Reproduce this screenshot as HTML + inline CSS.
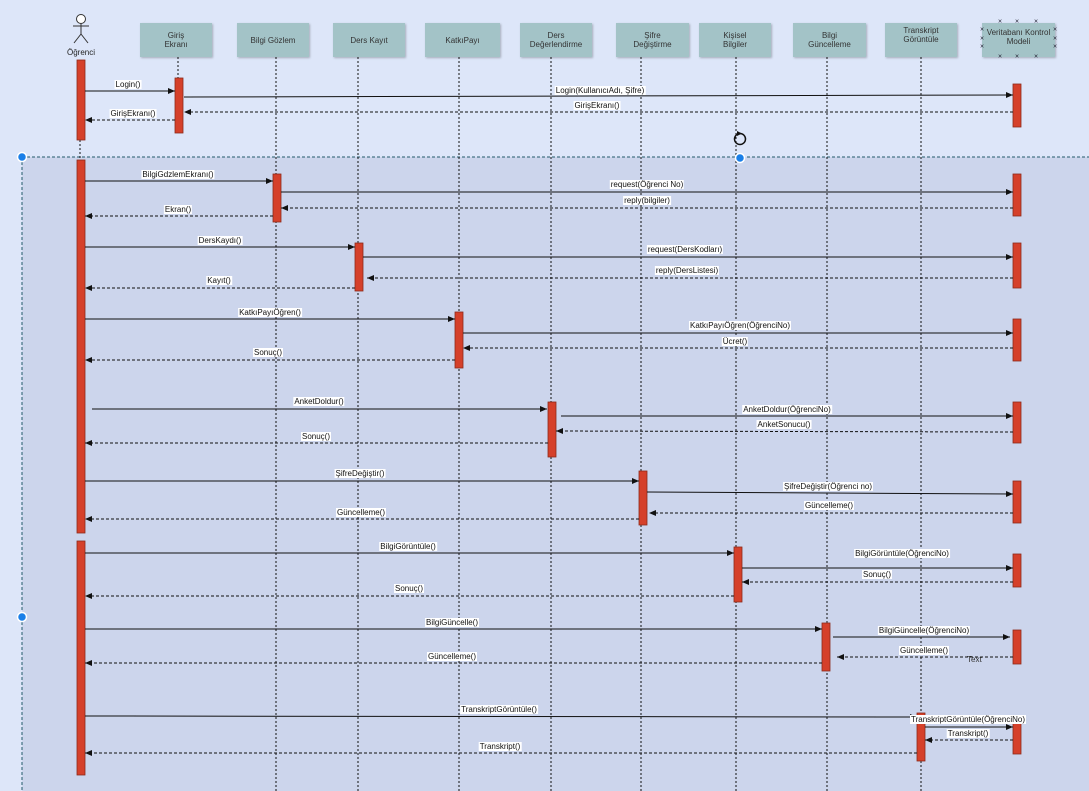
<!DOCTYPE html>
<html><head><meta charset="utf-8"><style>
body{margin:0;width:1089px;height:791px;overflow:hidden;background:#dde6f9;font-family:"Liberation Sans",sans-serif;position:relative}
.lbl{position:absolute;font-size:8px;background:#fff;color:#111;line-height:9px;padding:0 1px;transform:translateX(-50%);white-space:nowrap}
.hd{position:absolute;top:23px;height:34px;width:72px;background:#a3c3c7;box-shadow:1px 1px 2px rgba(0,0,0,.25);font-size:8px;color:#333;text-align:center;display:flex;align-items:center;justify-content:center;line-height:9px}
.x{position:absolute;font-size:7px;color:#223;line-height:7px;transform:translate(-50%,-50%)}
</style></head><body>
<svg width="1089" height="791" style="position:absolute;left:0;top:0">
<defs><marker id="a" markerWidth="8" markerHeight="8" refX="7" refY="4" orient="auto" markerUnits="userSpaceOnUse"><path d="M0,1 L7,4 L0,7 Z" fill="#111"/></marker></defs>
<rect x="22" y="157" width="1067" height="634" fill="#ccd5ec"/>
<line x1="22" y1="157" x2="1089" y2="157" stroke="#245a6a" stroke-dasharray="3,2"/>
<line x1="22" y1="157" x2="22" y2="791" stroke="#245a6a" stroke-dasharray="3,2"/>
<g stroke="#111" stroke-dasharray="2,2" stroke-width="1">
<line x1="80" y1="140" x2="80" y2="160"/>
<line x1="178" y1="57" x2="178" y2="78"/>
<line x1="276" y1="57" x2="276" y2="791"/>
<line x1="358" y1="57" x2="358" y2="791"/>
<line x1="459" y1="57" x2="459" y2="791"/>
<line x1="551" y1="57" x2="551" y2="791"/>
<line x1="641" y1="57" x2="641" y2="791"/>
<line x1="736" y1="57" x2="736" y2="791"/>
<line x1="827" y1="57" x2="827" y2="791"/>
<line x1="921" y1="57" x2="921" y2="791"/>
</g>
<g stroke="#333" fill="none" stroke-width="1">
<circle cx="81" cy="19" r="4.5" fill="#fff"/>
<line x1="81" y1="23" x2="81" y2="34"/><line x1="73" y1="26" x2="89" y2="26"/>
<line x1="81" y1="34" x2="74" y2="43"/><line x1="81" y1="34" x2="88" y2="43"/>
</g>
<text x="81" y="55" font-size="8" text-anchor="middle" fill="#222" font-family="Liberation Sans">Öğrenci</text>
<g fill="#d5402a" stroke="#8b2a1a" stroke-width="0.8">
<rect x="77" y="60" width="8" height="80"/><rect x="77" y="160" width="8" height="373"/><rect x="77" y="541" width="8" height="234"/>
<rect x="175" y="78" width="8" height="55"/>
<rect x="1013" y="84" width="8" height="43"/><rect x="1013" y="174" width="8" height="42"/><rect x="1013" y="243" width="8" height="45"/>
<rect x="1013" y="319" width="8" height="42"/><rect x="1013" y="402" width="8" height="41"/><rect x="1013" y="481" width="8" height="42"/>
<rect x="1013" y="554" width="8" height="33"/><rect x="1013" y="630" width="8" height="34"/><rect x="1013" y="718" width="8" height="36"/>
<rect x="273" y="174" width="8" height="48"/><rect x="355" y="243" width="8" height="48"/><rect x="455" y="312" width="8" height="56"/>
<rect x="548" y="402" width="8" height="55"/><rect x="639" y="471" width="8" height="54"/><rect x="734" y="547" width="8" height="55"/>
<rect x="822" y="623" width="8" height="48"/><rect x="917" y="713" width="8" height="48"/>
</g>
<g stroke="#111" stroke-width="1" marker-end="url(#a)">
<line x1="85" y1="91" x2="175" y2="91"/><line x1="184" y1="97" x2="1013" y2="95"/>
<line x1="85" y1="181" x2="273" y2="181"/><line x1="281" y1="192" x2="1013" y2="192"/>
<line x1="85" y1="247" x2="355" y2="247"/><line x1="363" y1="257" x2="1013" y2="257"/>
<line x1="85" y1="319" x2="455" y2="319"/><line x1="463" y1="333" x2="1013" y2="333"/>
<line x1="92" y1="409" x2="547" y2="409"/><line x1="561" y1="416" x2="1013" y2="416"/>
<line x1="85" y1="481" x2="639" y2="481"/><line x1="647" y1="492" x2="1013" y2="494"/>
<line x1="85" y1="553" x2="734" y2="553"/><line x1="742" y1="568" x2="1013" y2="568"/>
<line x1="85" y1="629" x2="822" y2="629"/><line x1="833" y1="637" x2="1010" y2="637"/>
<line x1="85" y1="716" x2="917" y2="717"/><line x1="925" y1="727" x2="1013" y2="727"/>
</g>
<g stroke="#111" stroke-width="1" stroke-dasharray="3,2" marker-end="url(#a)">
<line x1="1013" y1="112" x2="184" y2="112"/><line x1="175" y1="120" x2="85" y2="120"/>
<line x1="1013" y1="208" x2="281" y2="208"/><line x1="273" y1="216" x2="85" y2="216"/>
<line x1="1013" y1="278" x2="367" y2="278"/><line x1="355" y1="288" x2="85" y2="288"/>
<line x1="1013" y1="348" x2="463" y2="348"/><line x1="455" y1="360" x2="85" y2="360"/>
<line x1="1013" y1="432" x2="556" y2="431"/><line x1="548" y1="443" x2="85" y2="443"/>
<line x1="1013" y1="513" x2="649" y2="513"/><line x1="639" y1="519" x2="85" y2="519"/>
<line x1="1013" y1="582" x2="742" y2="582"/><line x1="734" y1="596" x2="85" y2="596"/>
<line x1="1013" y1="657" x2="837" y2="657"/><line x1="822" y1="663" x2="85" y2="663"/>
<line x1="1013" y1="740" x2="925" y2="740"/><line x1="917" y1="753" x2="85" y2="753"/>
</g>
<g fill="#1a7fe8" stroke="#fff" stroke-width="1.5">
<circle cx="22" cy="157" r="4.5"/><circle cx="740" cy="158" r="4.5"/><circle cx="22" cy="617" r="4.5"/>
</g>
<circle cx="740" cy="139" r="5.5" fill="none" stroke="#111" stroke-width="1.5"/>
<path d="M737,131 L742,133.5 L737,136 Z" fill="#111"/>
</svg>
<div class="hd" style="left:140px">Giriş<br>Ekranı</div>
<div class="hd" style="left:237px">Bilgi Gözlem</div>
<div class="hd" style="left:333px">Ders Kayıt</div>
<div class="hd" style="left:425px;width:75px">KatkıPayı</div>
<div class="hd" style="left:520px;width:72px">Ders<br>Değerlendirme</div>
<div class="hd" style="left:616px;width:73px">Şifre<br>Değiştirme</div>
<div class="hd" style="left:699px">Kişisel<br>Bilgiler</div>
<div class="hd" style="left:793px;width:73px">Bilgi<br>Güncelleme</div>
<div class="hd" style="left:885px;align-items:flex-start;padding-top:3px;height:31px">Transkript<br>Görüntüle</div>
<div class="hd" style="left:982px;width:73px;align-items:flex-start;padding-top:5px;height:29px">Veritabanı Kontrol<br>Modeli</div>
<div class="x" style="left:1000px;top:22px">×</div><div class="x" style="left:1017px;top:22px">×</div><div class="x" style="left:1036px;top:22px">×</div>
<div class="x" style="left:1000px;top:57px">×</div><div class="x" style="left:1017px;top:57px">×</div><div class="x" style="left:1036px;top:57px">×</div>
<div class="x" style="left:982px;top:30px">×</div><div class="x" style="left:982px;top:39px">×</div><div class="x" style="left:982px;top:47px">×</div>
<div class="x" style="left:1055px;top:30px">×</div><div class="x" style="left:1055px;top:39px">×</div><div class="x" style="left:1055px;top:47px">×</div>
<div class="lbl" style="left:128px;top:80px">Login()</div>
<div class="lbl" style="left:600px;top:86px">Login(KullanıcıAdı, Şifre)</div>
<div class="lbl" style="left:597px;top:101px">GirişEkranı()</div>
<div class="lbl" style="left:133px;top:109px">GirişEkranı()</div>
<div class="lbl" style="left:178px;top:170px">BilgiGdzlemEkranı()</div>
<div class="lbl" style="left:647px;top:180px">request(Öğrenci No)</div>
<div class="lbl" style="left:647px;top:196px">reply(bilgiler)</div>
<div class="lbl" style="left:178px;top:205px">Ekran()</div>
<div class="lbl" style="left:220px;top:236px">DersKaydı()</div>
<div class="lbl" style="left:685px;top:245px">request(DersKodları)</div>
<div class="lbl" style="left:687px;top:266px">reply(DersListesi)</div>
<div class="lbl" style="left:219px;top:276px">Kayıt()</div>
<div class="lbl" style="left:270px;top:308px">KatkıPayıÖğren()</div>
<div class="lbl" style="left:740px;top:321px">KatkıPayıÖğren(ÖğrenciNo)</div>
<div class="lbl" style="left:735px;top:337px">Ücret()</div>
<div class="lbl" style="left:268px;top:348px">Sonuç()</div>
<div class="lbl" style="left:319px;top:397px">AnketDoldur()</div>
<div class="lbl" style="left:787px;top:405px">AnketDoldur(ÖğrenciNo)</div>
<div class="lbl" style="left:784px;top:420px">AnketSonucu()</div>
<div class="lbl" style="left:316px;top:432px">Sonuç()</div>
<div class="lbl" style="left:360px;top:469px">ŞifreDeğiştir()</div>
<div class="lbl" style="left:828px;top:482px">ŞifreDeğiştir(Öğrenci no)</div>
<div class="lbl" style="left:829px;top:501px">Güncelleme()</div>
<div class="lbl" style="left:361px;top:508px">Güncelleme()</div>
<div class="lbl" style="left:408px;top:542px">BilgiGörüntüle()</div>
<div class="lbl" style="left:902px;top:549px">BilgiGörüntüle(ÖğrenciNo)</div>
<div class="lbl" style="left:877px;top:570px">Sonuç()</div>
<div class="lbl" style="left:409px;top:584px">Sonuç()</div>
<div class="lbl" style="left:452px;top:618px">BilgiGüncelle()</div>
<div class="lbl" style="left:924px;top:626px">BilgiGüncelle(ÖğrenciNo)</div>
<div class="lbl" style="left:924px;top:646px">Güncelleme()</div>
<div class="lbl" style="left:452px;top:652px">Güncelleme()</div>
<div style="position:absolute;left:967px;top:655px;font-size:8px;color:#333">Text</div>
<div class="lbl" style="left:499px;top:705px">TranskriptGörüntüle()</div>
<div class="lbl" style="left:968px;top:715px">TranskriptGörüntüle(ÖğrenciNo)</div>
<div class="lbl" style="left:968px;top:729px">Transkript()</div>
<div class="lbl" style="left:500px;top:742px">Transkript()</div>
</body></html>
